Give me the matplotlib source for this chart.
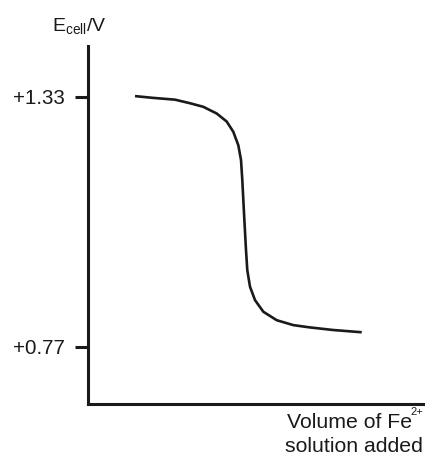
import matplotlib
matplotlib.use("Agg")
import matplotlib.pyplot as plt

plt.rcParams['font.family'] = ['Liberation Sans', 'DejaVu Sans']
plt.rcParams['mathtext.fontset'] = 'custom'
plt.rcParams['mathtext.rm'] = 'Liberation Sans'

# titration curve (volume in arbitrary units)
volume = [4.7, 6.5, 8.7, 10.2, 11.53, 12.87, 13.87, 14.53, 15.03, 15.3, 15.43,
          15.6, 15.8, 15.93, 16.2, 16.7, 17.53, 18.87, 20.53, 22.13, 24.53, 27.37]
e_cell = [1.332, 1.328, 1.324, 1.316, 1.308, 1.293, 1.275, 1.252, 1.222, 1.189, 1.144,
          1.070, 0.987, 0.942, 0.905, 0.875, 0.849, 0.830, 0.819, 0.814, 0.808, 0.803]

ytick_vals = [0.77, 1.33]
ytick_labels = ['+0.77', '+1.33']

fig = plt.figure(figsize=(4.25, 4.58), dpi=100)
ax = fig.add_axes([88/425, 54/458, 1 - 88/425, (404 - 46)/458])

ax.plot(volume, e_cell, color='#1a1a1a', linewidth=1.9, solid_capstyle='butt',
        solid_joinstyle='round')

ax.set_xlim(0, 33.7)
ax.set_ylim(0.6423, 1.4442)

for s in ['top', 'right']:
    ax.spines[s].set_visible(False)
for s in ['left', 'bottom']:
    ax.spines[s].set_linewidth(2.2)
    ax.spines[s].set_color('#1a1a1a')

ax.set_xticks([])
ax.set_yticks(ytick_vals)
ax.set_yticklabels(ytick_labels)
ax.tick_params(axis='y', length=9.5, width=2.2, color='#1a1a1a', pad=7,
               labelsize=14.8, labelcolor='#1a1a1a')

fig.text(79/425, 1 - 27/458, r'E$_{\mathregular{cell}}$/V', ha='center', va='center',
         fontsize=14, color='#1a1a1a')
fig.text(412/425, 1 - 423/458, 'Volume of Fe', ha='right',
         va='center', fontsize=15.3, color='#1a1a1a')
fig.text(423/425, 1 - 412/458, '2+', ha='right',
         va='center', fontsize=8, color='#1a1a1a')
fig.text(423/425, 1 - 446/458, 'solution added', ha='right', va='center',
         fontsize=15.3, color='#1a1a1a')

fig.savefig('out.png', dpi=100)
